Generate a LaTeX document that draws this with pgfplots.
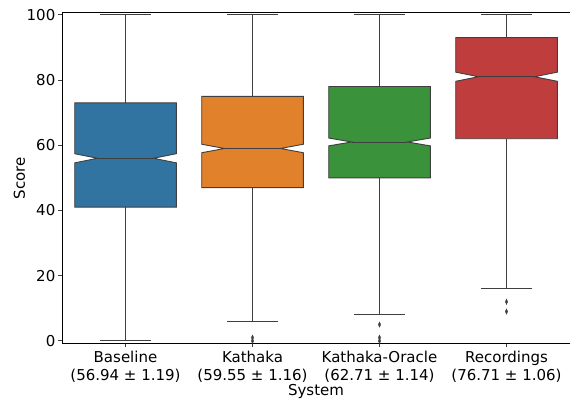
\documentclass[border=0pt]{standalone}
\usepackage{fontspec}
\setmainfont{DejaVu Sans}
\usepackage{pgfplots}
\pgfplotsset{compat=1.18}

\definecolor{cB}{HTML}{3274A1}
\definecolor{cK}{HTML}{E1812C}
\definecolor{cO}{HTML}{3A923A}
\definecolor{cR}{HTML}{C03D3E}
\definecolor{lineg}{HTML}{3F3F3F}

% notched box: #1 position, #2 colour, #3 lower whisker, #4 Q1,
% #5 notch low, #6 median, #7 notch high, #8 Q3, #9 upper whisker
\newcommand\nbox[9]{%
  \pgfmathsetmacro\nbL{#1-0.4}%
  \pgfmathsetmacro\nbR{#1+0.4}%
  \pgfmathsetmacro\nbIL{#1-0.22}%
  \pgfmathsetmacro\nbIR{#1+0.22}%
  \pgfmathsetmacro\nbCL{#1-0.2}%
  \pgfmathsetmacro\nbCR{#1+0.2}%
  \edef\nbtemp{%
    \noexpand\addplot[lineg, line width=0.9bp] coordinates {(#1,#3) (#1,#4)};
    \noexpand\addplot[lineg, line width=0.9bp] coordinates {(#1,#8) (#1,#9)};
    \noexpand\addplot[lineg, line width=0.9bp] coordinates {(\nbCL,#3) (\nbCR,#3)};
    \noexpand\addplot[lineg, line width=0.9bp] coordinates {(\nbCL,#9) (\nbCR,#9)};
    \noexpand\addplot[fill=#2, draw=lineg, line width=0.9bp] coordinates {
      (\nbL,#4) (\nbR,#4) (\nbR,#5) (\nbIR,#6) (\nbR,#7) (\nbR,#8)
      (\nbL,#8) (\nbL,#7) (\nbIL,#6) (\nbL,#5)} --cycle;
    \noexpand\addplot[lineg, line width=0.9bp] coordinates {(\nbIL,#6) (\nbIR,#6)};
  }%
  \nbtemp
}

\begin{document}
\begin{tikzpicture}[font=\fontsize{15bp}{18.3bp}\selectfont]
\begin{axis}[
  at={(62bp,55.5bp)}, anchor=south west,
  scale only axis, width=508bp, height=331bp,
  xmin=-0.5, xmax=3.5, ymin=-0.8, ymax=100.7,
  xtick={0,1,2,3},
  xticklabels={{Baseline\\(56.94 ± 1.19)},{Kathaka\\(59.55 ± 1.16)},{Kathaka-Oracle\\(62.71 ± 1.14)},{Recordings\\(76.71 ± 1.06)}},
  xticklabel style={align=center, inner sep=0pt, yshift=-3.5bp},
  yticklabel style={inner sep=0pt, xshift=-3bp},
  ytick={0,20,40,60,80,100},
  /pgf/number format/assume math mode=true,
  tick align=outside, xtick pos=bottom, ytick pos=left,
  major tick length=3.5bp,
  tick style={lineg, line width=0.8bp},
  axis line style={black, line width=0.8bp},
  xlabel={System}, ylabel={Score},
  xlabel style={at={(axis description cs:0.5,0)}, anchor=base, yshift=-51.5bp},
  ylabel style={at={(axis description cs:-0.073,0.5)}, anchor=base},
]
\nbox{0}{cB}{0}{41}{54.6}{56}{57.4}{73}{100}
\nbox{1}{cK}{6}{47}{57.7}{59}{60.3}{75}{100}
\nbox{2}{cO}{8}{50}{59.8}{61}{62.2}{78}{100}
\nbox{3}{cR}{16}{62}{79.6}{81}{82.4}{93}{100}
% outliers
\addplot[only marks, mark=diamond*, mark size=2.6bp, mark options={xscale=0.6, fill=lineg, draw=lineg}]
  coordinates {(1,0) (1,1) (2,0) (2,1) (2,5) (3,9) (3,12)};
\end{axis}
\pgfresetboundingbox
\useasboundingbox (0,0) rectangle (570bp,399bp);
\end{tikzpicture}
\end{document}
